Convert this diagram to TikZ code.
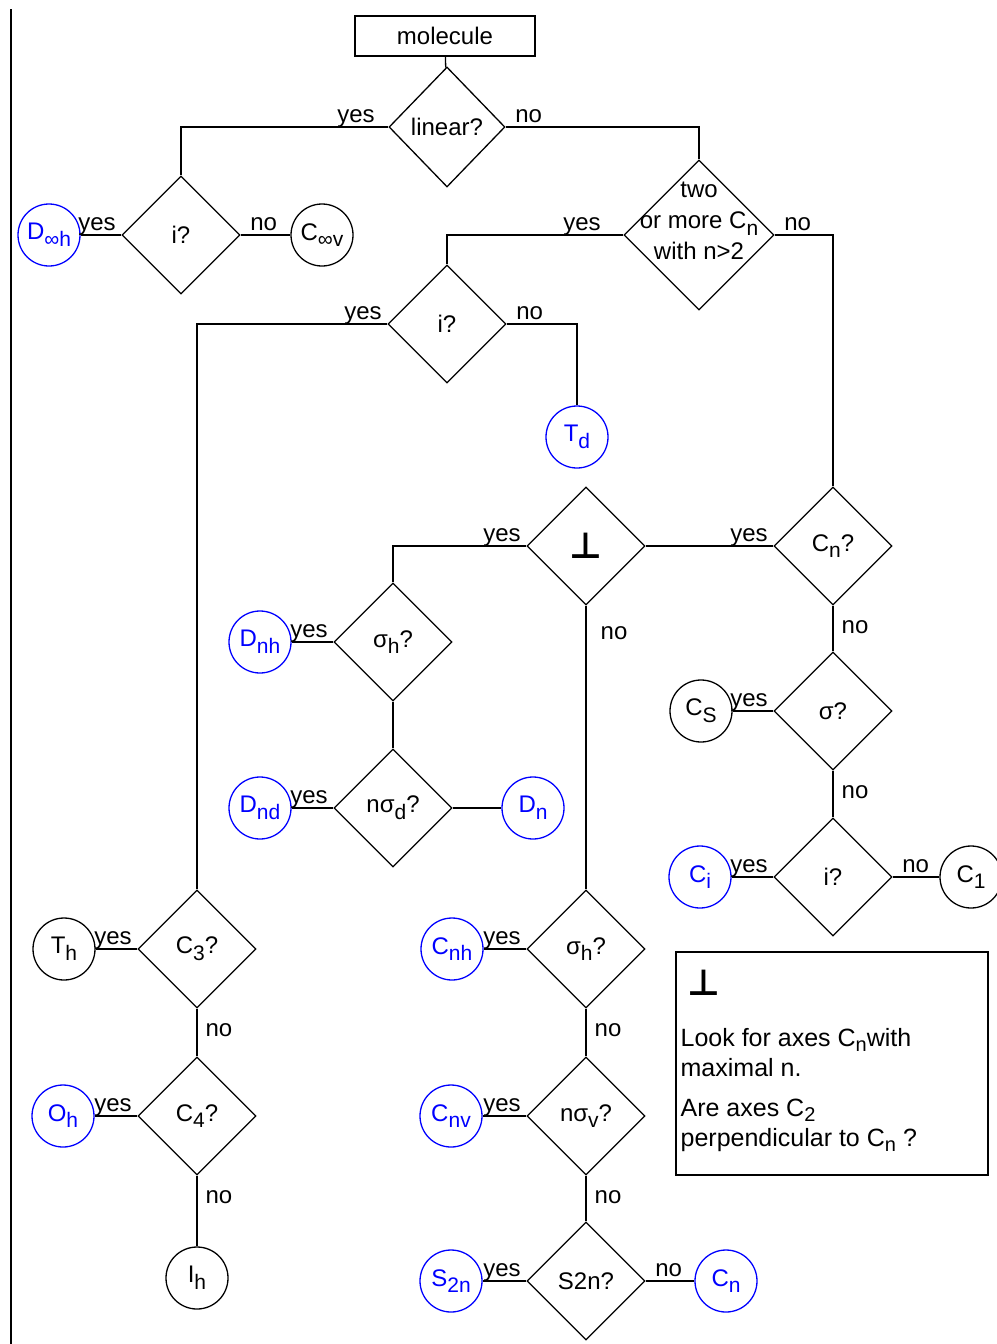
\documentclass[tikz,border=0pt]{standalone}
\usepackage{fontspec}
\setmainfont{Liberation Sans}
\newfontfamily\symfont{DejaVu Sans}
\usepackage{tikz}
\usetikzlibrary{shapes.geometric}
\definecolor{gblue}{HTML}{0000FF}
\newcommand{\perpsign}{{\symfont\bfseries\fontsize{36}{36}\selectfont ⊥}}
\newcommand{\lowr}[1]{\raisebox{-0.28em}{\fontsize{21}{21}\selectfont #1}}
\newcommand{\keylowr}[1]{\raisebox{-0.18em}{\fontsize{20}{20}\selectfont #1}}

\tikzset{
  q/.style={diamond,draw,aspect=1,inner sep=0pt,minimum size=118pt},
  grp/.style={circle,draw,inner sep=0pt,minimum size=62pt},
  blu/.style={grp,draw=gblue,text=gblue},
  yl/.style={anchor=base east,inner sep=0pt,xshift=-5pt,yshift=5pt},
  nl/.style={anchor=base west,inner sep=0pt,xshift=9pt,yshift=5pt},
  nd/.style={anchor=north west,inner sep=0pt,xshift=8pt,yshift=-14pt}
}

\begin{document}
\begin{tikzpicture}[x=1pt,y=-1pt,line width=1.3pt,
    nodes={font=\fontsize{24}{28}\selectfont}]
  \useasboundingbox[fill=white] (0,0) rectangle (996,1344);
  \draw[line width=2pt] (11,9) -- (11,1344);

  % questions
  \node[draw,inner sep=0pt,minimum width=180pt,minimum height=40pt] (mol) at (445,36) {molecule};
  \node[q,minimum width=116pt,minimum height=120pt] (lin) at (447,127) {linear?};
  \node[q] (ia) at (181,235) {i?};
  \node[q,minimum size=150pt] (multi) at (699,235) {};
  \node[align=center,inner sep=0pt,font=\fontsize{24}{31}\selectfont] (multitxt) at (699,221)
    {two\\or more C\lowr{n}\\with n>2};
  \node[q] (ib) at (447,324) {i?};
  \node[q] (perp) at (586,546) {\perpsign};
  \node[q] (cnq) at (833,546) {C\lowr{n}?};
  \node[q] (sig) at (833,711) {σ?};
  \node[q] (ic) at (833,877) {i?};
  \node[q] (sha) at (393,642) {σ\lowr{h}?};
  \node[q] (nsd) at (393,808) {nσ\lowr{d}?};
  \node[q] (c3q) at (197,949) {C\lowr{3}?};
  \node[q] (c4q) at (197,1116) {C\lowr{4}?};
  \node[q] (shb) at (586,949) {σ\lowr{h}?};
  \node[q] (nsv) at (586,1116) {nσ\lowr{v}?};
  \node[q] (s2q) at (586,1281) {S2n?};

  % point groups
  \node[blu] (dinfh) at (49,235) {D\lowr{∞h}};
  \node[grp] (cinfv) at (322,235) {C\lowr{∞v}};
  \node[blu] (td) at (577,437) {T\lowr{d}};
  \node[grp] (cs) at (701,711) {C\lowr{S}};
  \node[blu] (ci) at (700,877) {C\lowr{i}};
  \node[grp] (c1) at (971,877) {C\lowr{1}};
  \node[blu] (dnh) at (260,642) {D\lowr{nh}};
  \node[blu] (dnd) at (260,808) {D\lowr{nd}};
  \node[blu] (dn) at (533,808) {D\lowr{n}};
  \node[grp] (th) at (64,949) {T\lowr{h}};
  \node[blu] (oh) at (63,1116) {O\lowr{h}};
  \node[grp] (ih) at (197,1278) {I\lowr{h}};
  \node[blu] (cnh) at (452,949) {C\lowr{nh}};
  \node[blu] (cnv) at (451,1116) {C\lowr{nv}};
  \node[blu] (s2n) at (451,1281) {S\lowr{2n}};
  \node[blu] (cn) at (726,1281) {C\lowr{n}};

  % connectors
  \draw (mol) -- (lin);
  \draw (lin.west) node[yl,xshift=-8pt] (l1) {yes} -| (ia.north);
  \draw (lin.east) node[nl] (l2) {no} -| (multi.north);
  \draw (ia.west) node[yl] (l3) {yes} -- (dinfh);
  \draw (ia.east) node[nl] (l4) {no} -- (cinfv);
  \draw (multi.west) node[yl,xshift=-17pt] (l5) {yes} -| (ib.north);
  \draw (multi.east) node[nl] (l6) {no} -| (cnq.north);
  \draw (ib.west) node[yl] (l7) {yes} -| (c3q.north);
  \draw (ib.east) node[nl] (l8) {no} -| (td.north);
  \draw (cnq.west) node[yl] (l9) {yes} -- (perp.east);
  \draw (perp.west) node[yl] (l10) {yes} -| (sha.north);
  \draw (perp.south) node[nd,xshift=6pt,yshift=-6pt] (l11) {no} -- (shb.north);
  \draw (cnq.south) node[nd] (l12) {no} -- (sig.north);
  \draw (sig.west) node[yl] (l13) {yes} -- (cs);
  \draw (sig.south) node[nd] (l14) {no} -- (ic.north);
  \draw (ic.west) node[yl] (l15) {yes} -- (ci);
  \draw (ic.east) node[nl] (l16) {no} -- (c1);
  \draw (sha.west) node[yl] (l17) {yes} -- (dnh);
  \draw (sha.south) -- (nsd.north);
  \draw (nsd.west) node[yl] (l18) {yes} -- (dnd);
  \draw (nsd.east) -- (dn);
  \draw (c3q.west) node[yl] (l19) {yes} -- (th);
  \draw (c3q.south) node[nd] (l20) {no} -- (c4q.north);
  \draw (c4q.west) node[yl] (l21) {yes} -- (oh);
  \draw (c4q.south) node[nd] (l22) {no} -- (ih);
  \draw (shb.west) node[yl] (l23) {yes} -- (cnh);
  \draw (shb.south) node[nd] (l24) {no} -- (nsv.north);
  \draw (nsv.west) node[yl] (l25) {yes} -- (cnv);
  \draw (nsv.south) node[nd] (l26) {no} -- (s2q.north);
  \draw (s2q.west) node[yl] (l27) {yes} -- (s2n);
  \draw (s2q.east) node[nl] (l28) {no} -- (cn);

  % legend
  \node[draw,inner sep=0pt,minimum width=312pt,minimum height=223pt] (key) at (832,1063.5) {};
  \node[inner sep=0pt] (keyperp) at (704,983) {\perpsign};
  \node[anchor=north west,align=left,inner sep=0pt,font=\fontsize{25}{30}\selectfont] (keytxt) at (680,1028)
    {Look for axes C\keylowr{n}with\\maximal n.\\[10pt]Are axes C\keylowr{2}\\perpendicular to C\keylowr{n} ?};
\end{tikzpicture}
\end{document}
